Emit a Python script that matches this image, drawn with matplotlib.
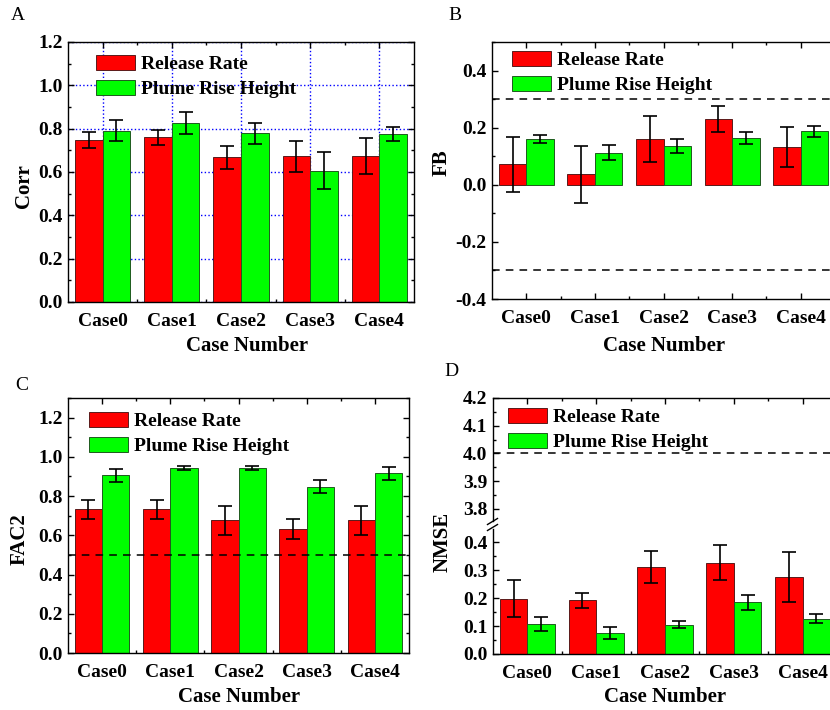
import numpy as np
import matplotlib
matplotlib.use('Agg')
import matplotlib.pyplot as plt
from matplotlib.ticker import MultipleLocator, FixedLocator
from matplotlib.lines import Line2D

# values
cases = ['Case0', 'Case1', 'Case2', 'Case3', 'Case4']

corr_rr = [0.746, 0.760, 0.667, 0.672, 0.675]
corr_rr_err = [0.037, 0.036, 0.052, 0.071, 0.084]
corr_prh = [0.790, 0.827, 0.778, 0.606, 0.775]
corr_prh_err = [0.048, 0.051, 0.048, 0.086, 0.032]

fb_rr = [0.072, 0.036, 0.161, 0.231, 0.133]
fb_rr_err = [0.097, 0.099, 0.081, 0.045, 0.070]
fb_prh = [0.160, 0.113, 0.136, 0.164, 0.187]
fb_prh_err = [0.013, 0.027, 0.023, 0.022, 0.018]

fac2_rr = [0.733, 0.733, 0.677, 0.631, 0.677]
fac2_rr_err = [0.048, 0.048, 0.073, 0.050, 0.073]
fac2_prh = [0.906, 0.942, 0.942, 0.847, 0.916]
fac2_prh_err = [0.033, 0.009, 0.009, 0.033, 0.034]

nmse_rr = [0.198, 0.193, 0.311, 0.327, 0.276]
nmse_rr_err = [0.066, 0.027, 0.058, 0.062, 0.089]
nmse_prh = [0.106, 0.075, 0.105, 0.185, 0.127]
nmse_prh_err = [0.025, 0.020, 0.012, 0.027, 0.016]

series_names = ['Release Rate', 'Plume Rise Height']

plt.rcParams['font.family'] = ['Liberation Serif', 'DejaVu Serif']
plt.rcParams['font.weight'] = 'bold'
plt.rcParams['font.size'] = 14
plt.rcParams['axes.unicode_minus'] = False

W, H = 830, 710
fig = plt.figure(figsize=(W / 100, H / 100), dpi=100)


def px_axes(left, top, right, bottom):
    # axes box given in pixel coordinates of the picture
    return fig.add_axes([left / W, 1 - bottom / H, (right - left) / W, (bottom - top) / H])


def style(ax, major, minor, right=True):
    ax.set_xlim(-0.5, 4.5)
    ax.set_xticks(range(len(cases)))
    ax.set_xticklabels(cases)
    ax.xaxis.set_minor_locator(FixedLocator([0.5, 1.5, 2.5, 3.5]))
    ax.yaxis.set_major_locator(MultipleLocator(major))
    ax.yaxis.set_minor_locator(MultipleLocator(minor))
    ax.tick_params(which='both', direction='in', top=True, right=right, width=1)
    ax.tick_params(which='major', length=4)
    ax.tick_params(which='minor', length=2.5)
    ax.tick_params(axis='y', pad=4)
    ax.tick_params(axis='x', pad=8)
    for s in ax.spines.values():
        s.set_linewidth(1.0)


def bars(ax, rr, rr_err, prh, prh_err):
    x = np.arange(len(cases))
    err_kw = dict(ecolor='black', elinewidth=1.2, capsize=5, capthick=1.2)
    ax.bar(x - 0.2, rr, 0.4, yerr=rr_err, color='#FF0000', edgecolor='#5a1a1a',
           linewidth=0.7, label=series_names[0], error_kw=err_kw, zorder=2)
    ax.bar(x + 0.2, prh, 0.4, yerr=prh_err, color='#00FF00', edgecolor='#1f5a1f',
           linewidth=0.7, label=series_names[1], error_kw=err_kw, zorder=2)


def legend(ax, x, y):
    ax.legend(loc='upper left', bbox_to_anchor=(x / W, 1 - y / H), bbox_transform=fig.transFigure,
              frameon=False, borderpad=0, borderaxespad=0, handlelength=2.0, handleheight=0.8,
              handletextpad=0.3, labelspacing=0.35, fontsize=14)


def dashed(ax, y):
    ax.axhline(y, color='black', linestyle=(0, (5, 4)), linewidth=1.1, zorder=5)


# A: Corr
axA = px_axes(68, 42, 414, 302)
bars(axA, corr_rr, corr_rr_err, corr_prh, corr_prh_err)
axA.set_ylim(0, 1.2)
style(axA, 0.2, 0.1)
axA.set_axisbelow(True)
axA.grid(True, which='major', color='#0000FF', linestyle=':', linewidth=1.0)
legend(axA, 96, 55)

# B: FB (right edge runs past the picture)
axB = px_axes(492, 42, 835, 299)
bars(axB, fb_rr, fb_rr_err, fb_prh, fb_prh_err)
axB.set_ylim(-0.4, 0.5)
style(axB, 0.2, 0.1, right=False)
dashed(axB, 0.3)
dashed(axB, -0.3)
legend(axB, 512, 51)

# C: FAC2
axC = px_axes(68, 398, 409, 653)
bars(axC, fac2_rr, fac2_rr_err, fac2_prh, fac2_prh_err)
axC.set_ylim(0, 1.3)
style(axC, 0.2, 0.1)
dashed(axC, 0.5)
legend(axC, 89, 412)

# D: NMSE with a broken y axis
axD = px_axes(493, 529, 837, 654)
axDu = px_axes(493, 398, 837, 521)
bars(axD, nmse_rr, nmse_rr_err, nmse_prh, nmse_prh_err)
axD.set_ylim(0, 0.4475)
style(axD, 0.1, 0.05, right=False)
axD.spines['top'].set_visible(False)
axD.tick_params(which='both', top=False)

# upper part keeps only the legend and the 4.0 reference line
axDu.bar(np.arange(len(cases)) - 0.2, nmse_rr, 0.4, color='#FF0000', edgecolor='#5a1a1a',
         linewidth=0.7, label=series_names[0])
axDu.bar(np.arange(len(cases)) + 0.2, nmse_prh, 0.4, color='#00FF00', edgecolor='#1f5a1f',
         linewidth=0.7, label=series_names[1])
axDu.set_ylim(3.7565, 4.2)
style(axDu, 0.1, 0.05, right=False)
axDu.spines['bottom'].set_visible(False)
axDu.tick_params(which='both', bottom=False, labelbottom=False)
dashed(axDu, 4.0)
legend(axDu, 508, 408)

# break marks on the left spine
for yb in (521.5, 527.5):
    fig.add_artist(Line2D([487.5 / W, 497.5 / W], [1 - (yb + 3) / H, 1 - (yb - 3) / H],
                          transform=fig.transFigure, color='black', linewidth=1.0))

# axis titles
fig.text(24 / W, 1 - 186 / H, 'Corr', rotation=90, ha='center', va='center', fontsize=15)
fig.text(442 / W, 1 - 163 / H, 'FB', rotation=90, ha='center', va='center', fontsize=15)
fig.text(20 / W, 1 - 539 / H, 'FAC2', rotation=90, ha='center', va='center', fontsize=15)
fig.text(443 / W, 1 - 542 / H, 'NMSE', rotation=90, ha='center', va='center', fontsize=15)
for xc, yc in [(247, 346), (664, 346), (239, 697), (665, 697)]:
    fig.text(xc / W, 1 - yc / H, 'Case Number', ha='center', va='center', fontsize=15)

# panel letters
for letter, xc, yc in [('A', 18, 15), ('B', 455, 15), ('C', 22, 385), ('D', 451, 372)]:
    fig.text(xc / W, 1 - yc / H, letter, ha='center', va='center', fontsize=14, fontweight='normal')

fig.savefig('out.png', dpi=100)
